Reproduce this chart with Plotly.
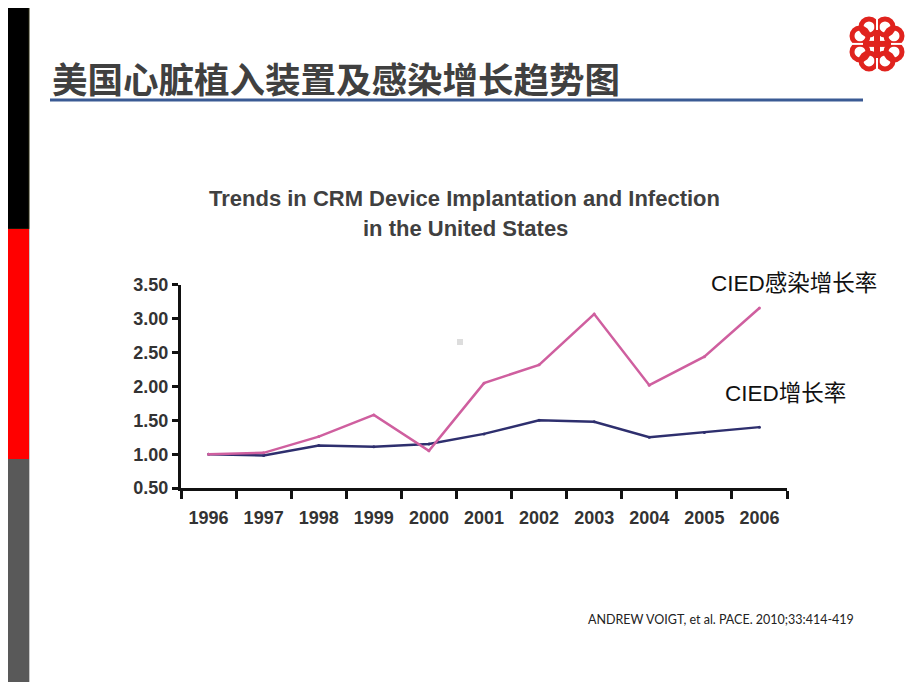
import plotly.graph_objects as go

# The page body keeps an 8px margin, so the figure is sized to fit in 920x690.
OFF = 8
W, H = 920 - 2 * OFF, 690 - 2 * OFF
VSCALE = 0.97   # observed vertical squeeze of the captured page about its centre
VC = 345

years = ["1996", "1997", "1998", "1999", "2000", "2001", "2002", "2003", "2004", "2005", "2006"]
cied_growth = [1.00, 0.98, 1.13, 1.11, 1.15, 1.30, 1.50, 1.48, 1.25, 1.32, 1.40]
infection_growth = [1.00, 1.02, 1.26, 1.58, 1.05, 2.05, 2.32, 3.07, 2.02, 2.44, 3.16]
y_ticks = [0.5, 1.0, 1.5, 2.0, 2.5, 3.0, 3.5]

page_title = "美国心脏植入装置及感染增长趋势图"
chart_title_lines = ["Trends in CRM Device Implantation and Infection", "in the United States"]
label_infection = "CIED感染增长率"
label_growth = "CIED增长率"
citation = "ANDREW VOIGT, et al. PACE. 2010;33:414-419"


def px(x):
    return (x - OFF) / W


def py(y):
    yp = VC + (y - VC) / VSCALE
    return 1 - (yp - OFF) / H


fig = go.Figure()
fig.add_trace(go.Scatter(x=years, y=cied_growth, mode="lines+markers",
                         line=dict(color="#2E2F6E", width=2.5),
                         marker=dict(size=3, color="#2E2F6E"),
                         showlegend=False, hoverinfo="x+y"))
fig.add_trace(go.Scatter(x=years, y=infection_growth, mode="lines+markers",
                         line=dict(color="#CF5F9F", width=2.5),
                         marker=dict(size=3, color="#CF5F9F"),
                         showlegend=False, hoverinfo="x+y"))

shapes = []
shapes.append(dict(type="rect", xref="paper", yref="paper", x0=px(-5), x1=px(29), y0=py(229), y1=py(-20),
                   fillcolor="#000000", line=dict(color="#2a2a10", width=1), layer="above"))
shapes.append(dict(type="rect", xref="paper", yref="paper", x0=px(-5), x1=px(29), y0=py(459), y1=py(229),
                   fillcolor="#FF0000", line=dict(width=0), layer="above"))
shapes.append(dict(type="rect", xref="paper", yref="paper", x0=px(-5), x1=px(29), y0=py(710), y1=py(459),
                   fillcolor="#595959", line=dict(width=0), layer="above"))
shapes.append(dict(type="line", xref="paper", yref="paper", x0=px(29.5), x1=px(29.5), y0=py(229), y1=py(710),
                   line=dict(color="#C8C8C8", width=1), layer="above"))
shapes.append(dict(type="line", xref="paper", yref="paper", x0=px(50), x1=px(863), y0=py(100), y1=py(100),
                   line=dict(color="#3A5A94", width=3), layer="above"))
shapes.append(dict(type="rect", xref="paper", yref="paper", x0=px(457), x1=px(463), y0=py(345), y1=py(339),
                   fillcolor="#DDDDDD", line=dict(width=0), layer="above"))

cx, cy = 877, 44
red = "#E0231E"
r = 8
for sx in (-1, 1):
    for sy in (-1, 1):
        for (ox, oy) in ((8, 17), (17, 8)):
            x0 = cx + sx * ox
            y0 = cy + sy * oy
            shapes.append(dict(type="circle", xref="paper", yref="paper",
                               x0=px(x0 - r), x1=px(x0 + r), y0=py(y0 + r), y1=py(y0 - r),
                               fillcolor="rgba(0,0,0,0)", line=dict(color=red, width=5), layer="above"))
shapes.append(dict(type="rect", xref="paper", yref="paper", x0=px(cx - 12), x1=px(cx + 12), y0=py(cy + 3),
                   y1=py(cy - 3), fillcolor=red, line=dict(width=0), layer="above"))
shapes.append(dict(type="rect", xref="paper", yref="paper", x0=px(cx - 3), x1=px(cx + 3), y0=py(cy + 12),
                   y1=py(cy - 12), fillcolor=red, line=dict(width=0), layer="above"))
for (a, b, c, d) in ((cx - 28, cy, cx - 14, cy), (cx + 14, cy, cx + 28, cy),
                     (cx, cy - 28, cx, cy - 14), (cx, cy + 14, cx, cy + 28)):
    shapes.append(dict(type="line", xref="paper", yref="paper", x0=px(a), x1=px(c), y0=py(b), y1=py(d),
                       line=dict(color="white", width=2), layer="above"))

annotations = [
    dict(text=page_title, xref="paper", yref="paper", x=px(50), y=py(78), xanchor="left", yanchor="middle",
         showarrow=False, font=dict(family="Noto Sans CJK SC", size=35.5, color="#404040", weight="bold")),
    dict(text=chart_title_lines[0], xref="paper", yref="paper",
         x=px(464), y=py(199), xanchor="center", yanchor="middle", showarrow=False,
         font=dict(family="Liberation Sans, Arial", size=22, color="#404040", weight="bold")),
    dict(text=chart_title_lines[1], xref="paper", yref="paper",
         x=px(466), y=py(229), xanchor="center", yanchor="middle", showarrow=False,
         font=dict(family="Liberation Sans, Arial", size=22, color="#404040", weight="bold")),
    dict(text=label_infection, xref="paper", yref="paper", x=px(709), y=py(284), xanchor="left", yanchor="middle",
         showarrow=False, font=dict(family="Liberation Sans, Noto Sans CJK SC", size=22.5, color="#111111")),
    dict(text=label_growth, xref="paper", yref="paper", x=px(723), y=py(393), xanchor="left", yanchor="middle",
         showarrow=False, font=dict(family="Liberation Sans, Noto Sans CJK SC", size=22.5, color="#111111")),
    dict(text=citation, xref="paper", yref="paper", x=px(586), y=py(619), xanchor="left", yanchor="middle",
         showarrow=False, font=dict(family="Lato, Liberation Sans", size=12.5, color="#222222")),
]

fig.update_layout(
    width=W, height=H,
    margin=dict(l=0, r=0, t=0, b=0),
    paper_bgcolor="white", plot_bgcolor="white",
    shapes=shapes, annotations=annotations,
    xaxis=dict(domain=[px(181), px(787)], type="category", range=[-0.5, 10.5],
               tickson="boundaries", ticks="outside", ticklen=8, tickwidth=3, tickcolor="#111111",
               showline=True, linewidth=3, linecolor="#111111", showgrid=False, zeroline=False,
               ticklabelstandoff=11,
               tickfont=dict(family="Liberation Sans, Arial", size=18, color="#333333", weight="bold")),
    yaxis=dict(domain=[py(488), py(285)], range=[0.5, 3.5], tickvals=y_ticks, tickformat=".2f",
               ticks="outside", ticklen=6, tickwidth=3, tickcolor="#111111",
               showline=True, linewidth=3, linecolor="#111111", showgrid=False, zeroline=False,
               ticklabelstandoff=0,
               tickfont=dict(family="Liberation Sans, Arial", size=18, color="#333333", weight="bold")),
)

fig.write_html("out.html", config={"displayModeBar": False})
